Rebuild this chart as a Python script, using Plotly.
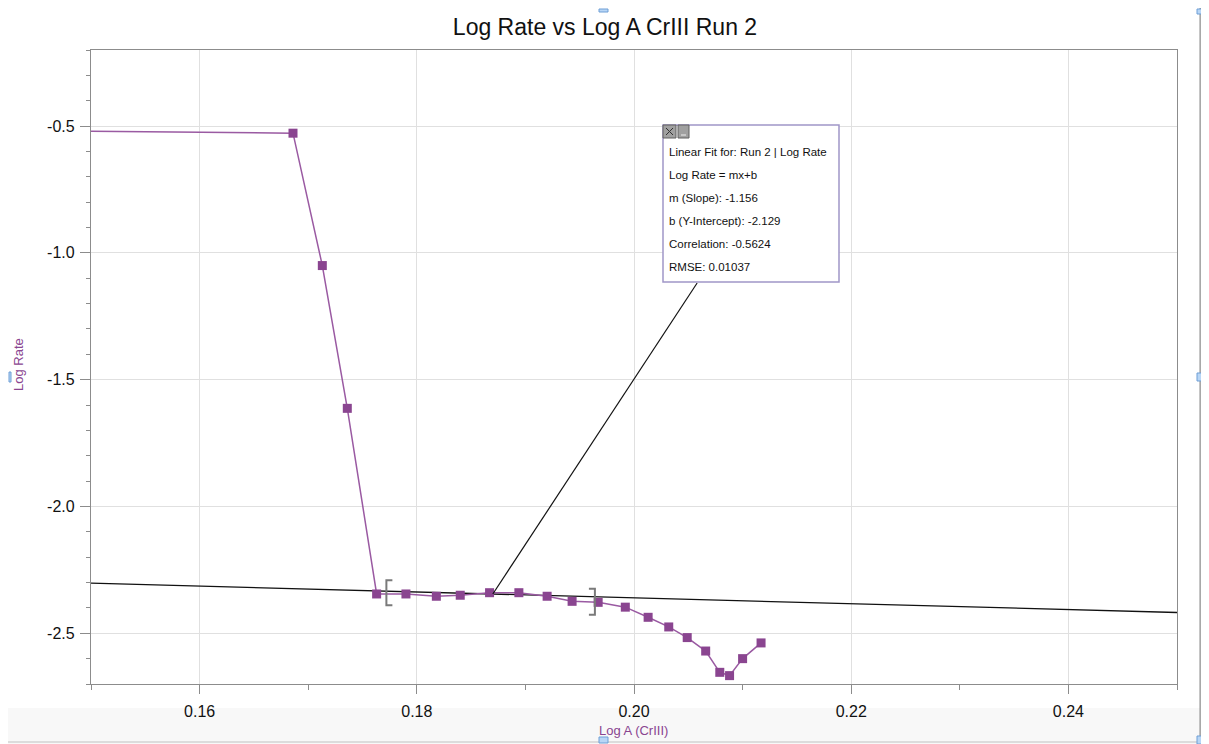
import plotly.graph_objects as go

# ---------------- data ----------------
log_a = [0.1400, 0.1686, 0.1713, 0.1736, 0.1763, 0.1790, 0.1818, 0.1840, 0.1867,
         0.1894, 0.1920, 0.1943, 0.1967, 0.1992, 0.2013, 0.2032, 0.2049, 0.2066,
         0.2079, 0.2088, 0.2100, 0.2117]
log_rate = [-0.517, -0.528, -1.050, -1.613, -2.345, -2.345, -2.354, -2.350, -2.340,
            -2.340, -2.354, -2.374, -2.378, -2.397, -2.437, -2.475, -2.517, -2.570,
            -2.654, -2.667, -2.600, -2.538]

fit_slope = -1.156
fit_intercept = -2.129
fit_range = [0.1772, 0.1964]
fit_label_anchor = 0.187
fit_text = ["Linear Fit for: Run 2 | Log Rate", "Log Rate = mx+b",
            "m (Slope): -1.156", "b (Y-Intercept): -2.129",
            "Correlation: -0.5624", "RMSE: 0.01037"]

x_range = [0.15, 0.25]
y_range = [-2.7, -0.2]
x_ticks = [0.16, 0.18, 0.20, 0.22, 0.24]
x_ticktext = ["0.16", "0.18", "0.20", "0.22", "0.24"]
x_minor = [0.15, 0.17, 0.19, 0.21, 0.23, 0.25]
y_ticks = [-2.5, -2.0, -1.5, -1.0, -0.5]
y_ticktext = ["-2.5", "-2.0", "-1.5", "-1.0", "-0.5"]

# ---------------- layout helpers ----------------
OFF = 8                      # page body margin
FW, FH = 1201, 736           # figure size so that it fits the window
ML, MR, MT, MB = 83, 32, 42, 60
PW, PH = FW - ML - MR, FH - MT - MB
SX0, SY1 = OFF + ML, OFF + FH - MB   # screen coords of plot left / bottom


def px(x):
    return (x - SX0) / PW


def py(y):
    return (SY1 - y) / PH


FONT = "Liberation Sans, Arial, Helvetica, sans-serif"
PURPLE = "#8a4590"
LINEP = "#9a5aa2"

fig = go.Figure()

# fit line
fit_x = x_range
fit_y = [fit_slope * v + fit_intercept for v in fit_x]
fig.add_trace(go.Scatter(x=fit_x, y=fit_y, mode="lines",
                         line=dict(color="#111111", width=1.3),
                         hoverinfo="skip", showlegend=False))

# data
fig.add_trace(go.Scatter(x=log_a, y=log_rate, mode="lines+markers",
                         line=dict(color=LINEP, width=1.5),
                         marker=dict(symbol="square", size=9, color=PURPLE,
                                     line=dict(width=0)),
                         showlegend=False))

shapes = []
annotations = []

# fit range brackets (pixel-sized, anchored on the fit line)
for i, xv in enumerate(fit_range):
    yv = fit_slope * xv + fit_intercept
    if i == 0:
        path = "M 6,11 L 0,11 L 0,-14 L 6,-14"
    else:
        path = "M -6,8 L 0,8 L 0,-18 L -6,-18"
    shapes.append(dict(type="path", xref="x", yref="y", xsizemode="pixel",
                       ysizemode="pixel", xanchor=xv, yanchor=yv, path=path,
                       line=dict(color="#7a7a7a", width=2)))

# leader line from fit line to the box
box_corner_x = 0.16 + (697 - 198.3) / 10885
box_corner_y = -0.5 - (283 - 126.3) / 253.3
shapes.append(dict(type="line", xref="x", yref="y",
                   x0=fit_label_anchor, y0=fit_slope * fit_label_anchor + fit_intercept,
                   x1=box_corner_x, y1=box_corner_y,
                   line=dict(color="#111111", width=1.2)))

# fit box
shapes.append(dict(type="rect", xref="paper", yref="paper",
                   x0=px(663), x1=px(839), y0=py(282), y1=py(125),
                   fillcolor="white", line=dict(color="#a096c8", width=1.5)))
# buttons
shapes.append(dict(type="rect", xref="paper", yref="paper",
                   x0=px(663), x1=px(676), y0=py(138), y1=py(125),
                   fillcolor="#a0a0a0", line=dict(color="#606060", width=1)))
shapes.append(dict(type="line", xref="paper", yref="paper",
                   x0=px(666), x1=px(673), y0=py(135), y1=py(128),
                   line=dict(color="#333333", width=1)))
shapes.append(dict(type="line", xref="paper", yref="paper",
                   x0=px(666), x1=px(673), y0=py(128), y1=py(135),
                   line=dict(color="#333333", width=1)))
shapes.append(dict(type="rect", xref="paper", yref="paper",
                   x0=px(678), x1=px(689), y0=py(138), y1=py(125),
                   fillcolor="#a0a0a0", line=dict(color="#606060", width=1)))
shapes.append(dict(type="line", xref="paper", yref="paper",
                   x0=px(681), x1=px(686), y0=py(135), y1=py(135),
                   line=dict(color="#eeeeee", width=1)))

for i, t in enumerate(fit_text):
    annotations.append(dict(text=t, xref="paper", yref="paper",
                            x=px(667), y=py(152.3 + 22.9 * i),
                            xanchor="left", yanchor="middle", showarrow=False,
                            font=dict(family=FONT, size=11.5, color="#111111")))

# window chrome
shapes.append(dict(type="rect", xref="paper", yref="paper", layer="below",
                   x0=px(OFF), x1=px(OFF + FW), y0=py(OFF + FH), y1=py(708),
                   fillcolor="#f8f8f8", line=dict(width=0)))
shapes.append(dict(type="line", xref="paper", yref="paper",
                   x0=px(OFF), x1=px(1200), y0=py(742), y1=py(742),
                   line=dict(color="#c0c0c0", width=1)))
shapes.append(dict(type="rect", xref="paper", yref="paper",
                   x0=px(1200), x1=px(1205), y0=py(OFF + FH), y1=py(OFF),
                   fillcolor="#c4c4c4", line=dict(color="#8c8c8c", width=1)))
for yc in [377, 740]:
    shapes.append(dict(type="rect", xref="paper", yref="paper",
                       x0=px(1197), x1=px(1208), y0=py(yc + 4), y1=py(yc - 4),
                       fillcolor="#b8d6f6", line=dict(color="#6f9fd6", width=1)))
shapes.append(dict(type="rect", xref="paper", yref="paper",
                   x0=px(1197), x1=px(1208), y0=py(14), y1=py(OFF + 1),
                   fillcolor="#b8d6f6", line=dict(color="#6f9fd6", width=1)))
shapes.append(dict(type="rect", xref="paper", yref="paper",
                   x0=px(599), x1=px(608), y0=py(12), y1=py(OFF + 1),
                   fillcolor="#b8d6f6", line=dict(color="#6f9fd6", width=1)))
shapes.append(dict(type="rect", xref="paper", yref="paper",
                   x0=px(599), x1=px(608), y0=py(743), y1=py(737),
                   fillcolor="#b8d6f6", line=dict(color="#6f9fd6", width=1)))
shapes.append(dict(type="rect", xref="paper", yref="paper",
                   x0=px(9), x1=px(11), y0=py(382), y1=py(372),
                   fillcolor="#b8d6f6", line=dict(color="#6f9fd6", width=1)))

# axis titles
annotations.append(dict(text="Log Rate", xref="paper", yref="paper",
                        x=px(18), y=py(365), textangle=-90, showarrow=False,
                        xanchor="center", yanchor="middle",
                        font=dict(family=FONT, size=13, color=PURPLE)))
annotations.append(dict(text="Log A (CrIII)", xref="paper", yref="paper",
                        x=px(633), y=py(730), showarrow=False,
                        xanchor="center", yanchor="middle",
                        font=dict(family=FONT, size=13, color=PURPLE)))

fig.update_layout(
    width=FW, height=FH, autosize=False,
    margin=dict(l=ML, r=MR, t=MT, b=MB, pad=0),
    paper_bgcolor="white", plot_bgcolor="white",
    title=dict(text="Log Rate vs Log A CrIII Run 2", x=(605 - OFF) / FW, xref="container",
               xanchor="center", y=1 - (27 - OFF) / FH, yref="container", yanchor="middle",
               font=dict(family=FONT, size=23, color="#111111")),
    shapes=shapes, annotations=annotations,
    xaxis=dict(range=x_range, tickmode="array", tickvals=x_ticks, ticktext=x_ticktext,
               ticks="outside", ticklen=9, tickcolor="#8c8c8c", tickwidth=1,
               minor=dict(tickmode="array", tickvals=x_minor, ticks="outside",
                          ticklen=5, tickcolor="#8c8c8c", showgrid=False),
               showgrid=True, gridcolor="#e0e0e0", gridwidth=1,
               showline=True, linecolor="#8c8c8c", linewidth=1.2, mirror=True,
               zeroline=False, ticklabelstandoff=4,
               tickfont=dict(family=FONT, size=16, color="#111111")),
    yaxis=dict(range=y_range, tickmode="array", tickvals=y_ticks, ticktext=y_ticktext,
               ticks="outside", ticklen=10, tickcolor="#8c8c8c", tickwidth=1,
               minor=dict(dtick=0.1, tick0=0, ticks="outside", ticklen=4,
                          tickcolor="#8c8c8c", showgrid=False),
               showgrid=True, gridcolor="#e0e0e0", gridwidth=1,
               showline=True, linecolor="#8c8c8c", linewidth=1.2, mirror=True,
               zeroline=False, ticklabelstandoff=2,
               tickfont=dict(family=FONT, size=16, color="#111111")),
)

fig.write_html("out.html")
